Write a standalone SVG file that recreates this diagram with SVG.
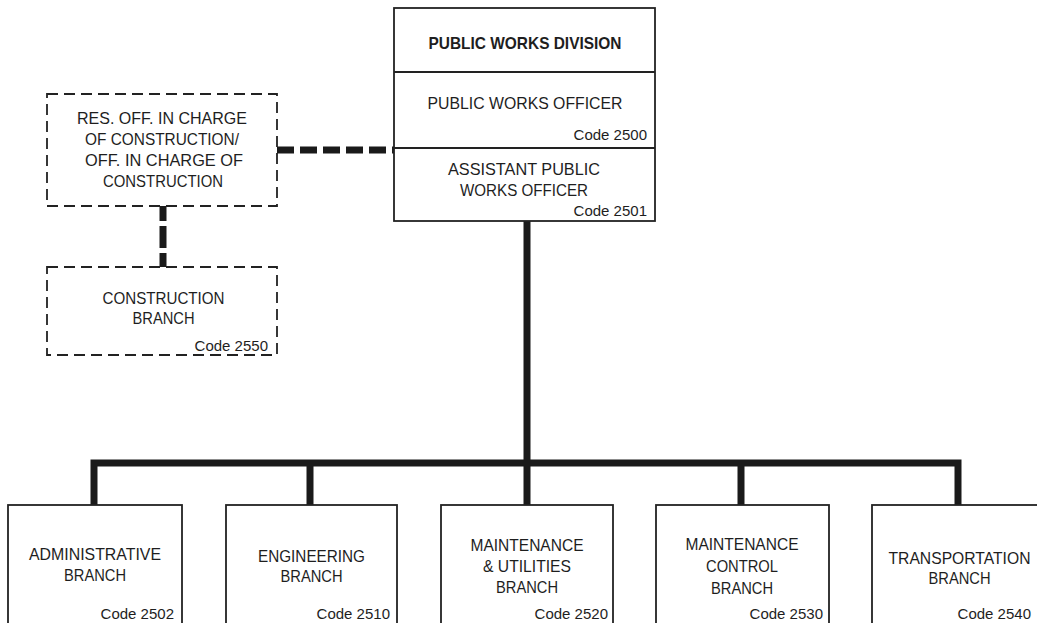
<svg xmlns="http://www.w3.org/2000/svg" width="1037" height="623" viewBox="0 0 1037 623">
<style>
.box{fill:#fff;stroke:#222;stroke-width:1.8}
.dbox{fill:none;stroke:#222;stroke-width:1.8;stroke-dasharray:11 6}
.t{font-family:"Liberation Sans",Arial,sans-serif;font-size:17px;fill:#1e1e1e;text-anchor:middle}
.b{font-weight:bold}
.c{font-family:"Liberation Sans",Arial,sans-serif;font-size:15px;fill:#1e1e1e;text-anchor:end}
.solid{fill:none;stroke:#1a1a1a;stroke-width:7}
.dash{fill:none;stroke:#1a1a1a;stroke-width:7;stroke-dasharray:17 6}
</style>
<rect width="1037" height="623" fill="#fff"/>
<g id="connectors">
<path class="solid" d="M527 221V463M94 505V463H958V505M310 463V505M527 463V505M741 463V505"/>
<path class="dash" d="M277 150H394"/>
<path class="dash" d="M163 206V267" style="stroke-dasharray:15 5 22 5 20"/>
</g>
<g id="pwd">
<rect class="box" x="394" y="8" width="261" height="213"/>
<path class="box" d="M394 72H655M394 148H655"/>
<text class="t b" x="525" y="48.5" textLength="193" lengthAdjust="spacingAndGlyphs">PUBLIC WORKS DIVISION</text>
<text class="t" x="525" y="108.5" textLength="195" lengthAdjust="spacingAndGlyphs">PUBLIC WORKS OFFICER</text>
<text class="c" x="647" y="139.5">Code 2500</text>
<text class="t" x="524" y="174.5" textLength="152" lengthAdjust="spacingAndGlyphs">ASSISTANT PUBLIC</text>
<text class="t" x="524" y="195.5" textLength="128" lengthAdjust="spacingAndGlyphs">WORKS OFFICER</text>
<text class="c" x="647" y="215.5">Code 2501</text>
</g>
<g id="roicc">
<rect class="dbox" x="47" y="94" width="230" height="112"/>
<text class="t" x="162" y="124" textLength="170" lengthAdjust="spacingAndGlyphs">RES. OFF. IN CHARGE</text>
<text class="t" x="162" y="145" textLength="154" lengthAdjust="spacingAndGlyphs">OF CONSTRUCTION/</text>
<text class="t" x="164" y="166" textLength="158" lengthAdjust="spacingAndGlyphs">OFF. IN CHARGE OF</text>
<text class="t" x="163" y="187" textLength="120" lengthAdjust="spacingAndGlyphs">CONSTRUCTION</text>
</g>
<g id="construction">
<rect class="dbox" x="47" y="267" width="230" height="88"/>
<text class="t" x="163.5" y="303.5" textLength="122" lengthAdjust="spacingAndGlyphs">CONSTRUCTION</text>
<text class="t" x="163.5" y="323.5" textLength="62" lengthAdjust="spacingAndGlyphs">BRANCH</text>
<text class="c" x="268" y="350.5">Code 2550</text>
</g>
<g id="admin">
<rect class="box" x="8" y="505" width="174" height="130"/>
<text class="t" x="95" y="559.5" textLength="132" lengthAdjust="spacingAndGlyphs">ADMINISTRATIVE</text>
<text class="t" x="95" y="580.5" textLength="62" lengthAdjust="spacingAndGlyphs">BRANCH</text>
<text class="c" x="174" y="618.5">Code 2502</text>
</g>
<g id="engineering">
<rect class="box" x="226" y="505" width="171" height="130"/>
<text class="t" x="311.5" y="561.5" textLength="107" lengthAdjust="spacingAndGlyphs">ENGINEERING</text>
<text class="t" x="311.5" y="581.5" textLength="62" lengthAdjust="spacingAndGlyphs">BRANCH</text>
<text class="c" x="390" y="618.5">Code 2510</text>
</g>
<g id="mu">
<rect class="box" x="441" y="505" width="172" height="130"/>
<text class="t" x="527" y="550.5" textLength="113" lengthAdjust="spacingAndGlyphs">MAINTENANCE</text>
<text class="t" x="527" y="571.5" textLength="88" lengthAdjust="spacingAndGlyphs">&amp; UTILITIES</text>
<text class="t" x="527" y="592.5" textLength="62" lengthAdjust="spacingAndGlyphs">BRANCH</text>
<text class="c" x="608" y="618.5">Code 2520</text>
</g>
<g id="mc">
<rect class="box" x="656" y="505" width="173" height="130"/>
<text class="t" x="742" y="549.5" textLength="113" lengthAdjust="spacingAndGlyphs">MAINTENANCE</text>
<text class="t" x="742" y="571.5" textLength="72" lengthAdjust="spacingAndGlyphs">CONTROL</text>
<text class="t" x="742" y="593.5" textLength="62" lengthAdjust="spacingAndGlyphs">BRANCH</text>
<text class="c" x="823" y="618.5">Code 2530</text>
</g>
<g id="transport">
<rect class="box" x="872" y="505" width="172" height="130"/>
<text class="t" x="959.5" y="563.5" textLength="142" lengthAdjust="spacingAndGlyphs">TRANSPORTATION</text>
<text class="t" x="959.5" y="583.5" textLength="62" lengthAdjust="spacingAndGlyphs">BRANCH</text>
<text class="c" x="1031" y="618.5">Code 2540</text>
</g>
</svg>
